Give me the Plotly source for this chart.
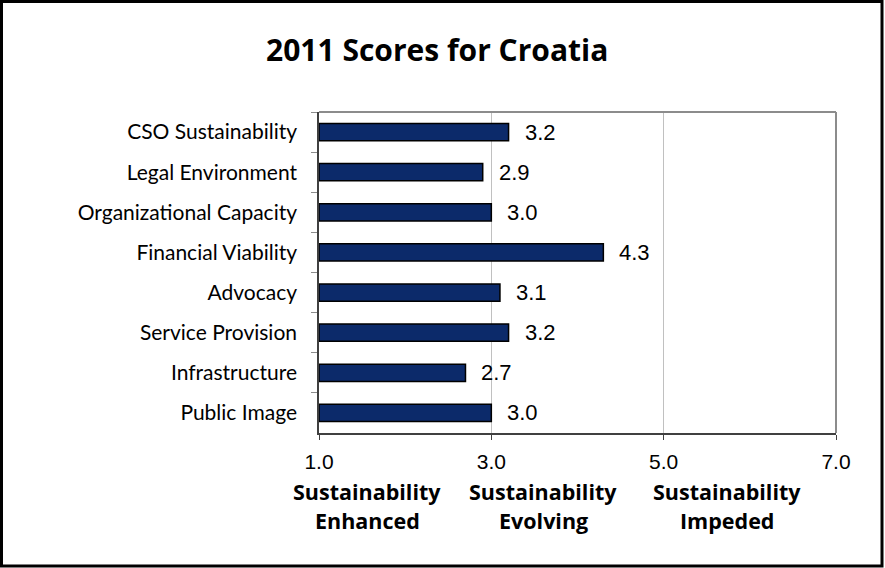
import plotly.graph_objects as go

# Index scores (1 = best, 7 = worst)
categories = [
    "CSO Sustainability",
    "Legal Environment",
    "Organizational Capacity",
    "Financial Viability",
    "Advocacy",
    "Service Provision",
    "Infrastructure",
    "Public Image",
]
scores = [3.2, 2.9, 3.0, 4.3, 3.1, 3.2, 2.7, 3.0]
x_ticks = [1.0, 3.0, 5.0, 7.0]
band_labels = [
    ("Sustainability", "Enhanced"),
    ("Sustainability", "Evolving"),
    ("Sustainability", "Impeded"),
]

W, H = 885, 568
PL, PR, PT, PB = 319, 836, 112, 433  # plot area in pixels


def px(x):
    return (x - PL) / (PR - PL)


def py(y):
    return (PB - y) / (PB - PT)


LABEL_FONT = "Lato, 'Gill Sans', sans-serif"
BOLD_FONT = "'Open Sans', 'Gill Sans', sans-serif"
NUM_FONT = "'Liberation Sans', Arial, sans-serif"

fig = go.Figure(
    go.Bar(
        x=[s - 1.0 for s in scores],
        base=1.0,
        y=categories,
        orientation="h",
        marker=dict(color="#0c2a6a", line=dict(color="#000000", width=1.5)),
        hoverinfo="skip",
    )
)

# value labels to the right of each bar
for cat, s in zip(categories, scores):
    fig.add_annotation(
        x=s, y=cat, xref="x", yref="y",
        text=f"{s:.1f}", showarrow=False,
        xanchor="left", yanchor="middle", xshift=14,
        font=dict(family=NUM_FONT, size=22, color="#000000"),
    )

# band captions under the x axis
band_x = [367, 543, 727]
for (l1, l2), cx in zip(band_labels, band_x):
    fig.add_annotation(
        x=px(cx), y=py(492), xref="paper", yref="paper",
        text=f"<b>{l1}</b>", showarrow=False,
        xanchor="center", yanchor="middle",
        font=dict(family=BOLD_FONT, size=21.5, color="#000000"),
    )
    fig.add_annotation(
        x=px(cx), y=py(520), xref="paper", yref="paper",
        text=f"<b>{l2}</b>", showarrow=False,
        xanchor="center", yanchor="middle",
        font=dict(family=BOLD_FONT, size=21.5, color="#000000"),
    )

# title
fig.add_annotation(
    x=px(437), y=py(50), xref="paper", yref="paper",
    text="<b>2011 Scores for Croatia</b>", showarrow=False,
    xanchor="center", yanchor="middle",
    font=dict(family=BOLD_FONT, size=30, color="#000000"),
)

# plot frame (top and right in grey)
fig.add_shape(type="line", xref="paper", yref="paper",
              x0=0, x1=1, y0=1, y1=1, line=dict(color="#8c8c8c", width=2))
fig.add_shape(type="line", xref="paper", yref="paper",
              x0=1, x1=1, y0=0, y1=1, line=dict(color="#8c8c8c", width=2))

# outer border around the whole figure
fig.add_shape(type="rect", xref="paper", yref="paper",
              x0=px(1.5), x1=px(882), y0=py(566), y1=py(1.5),
              line=dict(color="#000000", width=3))

fig.update_layout(
    width=W, height=H,
    margin=dict(l=PL, r=W - PR, t=PT, b=H - PB),
    paper_bgcolor="#ffffff",
    plot_bgcolor="#ffffff",
    showlegend=False,
    bargap=0.57,
    xaxis=dict(
        range=[1.0, 7.0],
        tickmode="array",
        tickvals=x_ticks,
        ticktext=[f"{v:.1f}" for v in x_ticks],
        tickfont=dict(family=NUM_FONT, size=21, color="#000000"),
        showgrid=True, gridcolor="#c0c0c0", gridwidth=1,
        showline=True, linecolor="#404040", linewidth=1.5,
        ticks="outside", ticklen=5, tickcolor="#404040",
        ticklabelstandoff=4,
        zeroline=False, fixedrange=True,
    ),
    yaxis=dict(
        categoryorder="array",
        categoryarray=categories,
        autorange="reversed",
        tickfont=dict(family=LABEL_FONT, size=21, color="#000000"),
        showgrid=False,
        showline=True, linecolor="#404040", linewidth=1.5,
        ticks="outside", ticklen=6, tickcolor="#8c8c8c",
        tickson="boundaries",
        ticklabelstandoff=16,
        zeroline=False, fixedrange=True,
    ),
)

fig.write_html("out.html")
